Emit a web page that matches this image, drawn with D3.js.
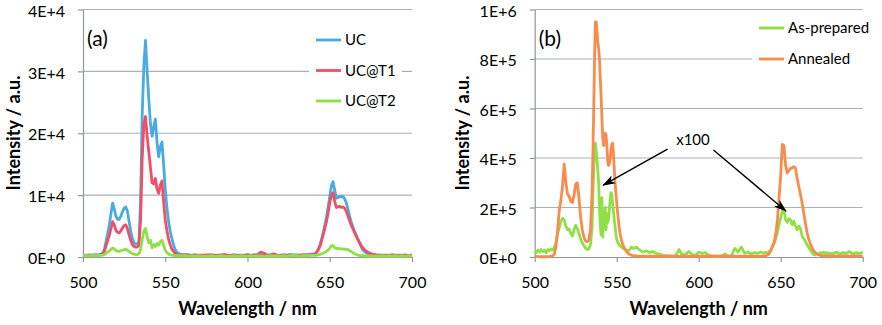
<!DOCTYPE html>
<html lang="en">
<head>
<meta charset="UTF-8">
<title>Emission spectra</title>
<script src="https://d3js.org/d3.v7.min.js"></script>
<style>
body{margin:0;background:#fff;}
text{font-family:Lato,'Open Sans',sans-serif;fill:#000;}
.tick text{font-size:16px;}
.title{font-size:18px;font-weight:700;}
.legend text{font-size:15px;}
</style>
</head>
<body>
<svg id="chart" width="882" height="325"></svg>
<script>
// ---- panel (a) ----
const wlA = [
  500,502,504,506,508,510,512,
  513,514,515,516,517,518,519,520,521,522,523,524,525,526,527,528,529,530,531,532,
  533,534,535,536,537,538,539,540,541,542,543,544,545,546,547,548,549,550,551,552,
  553,554,555,556,557,558,559,560,
  562,564,566,568,570,572,574,576,578,580,582,584,586,588,590,592,594,596,598,600,
  602,604,606,608,610,612,614,616,618,620,622,624,626,628,630,632,634,636,638,640,
  641,642,643,644,645,646,647,648,649,650,651,652,653,654,655,656,657,658,659,660,
  661,662,663,664,665,666,667,668,669,670,671,672,673,674,675,676,677,678,679,680,
  682,684,686,688,690,692,694,696,698,700
];
const uc = [
  300,250,350,300,400,350,600,
  1200,2500,3800,5200,7000,8700,7800,6600,6100,6100,6600,7300,7900,8100,7400,5800,4200,3000,2300,2100,
  2100,2500,9000,23000,31000,35000,30000,25500,21500,19500,21000,22300,18500,16200,17800,18600,15000,11000,8000,5800,
  4200,3000,2000,1200,800,600,450,400,
  400,350,300,350,300,250,300,350,300,250,300,350,300,250,300,350,300,250,300,400,
  300,350,400,300,250,300,350,300,250,300,350,300,400,300,350,300,350,400,450,500,
  500,800,1300,1900,2800,3900,5200,6400,8000,9800,11500,12200,10800,9500,9600,9800,9700,9800,9400,8800,
  7800,6700,5700,4900,4200,3600,2900,2300,1700,1200,900,700,550,450,400,350,350,300,300,300,
  300,250,300,350,300,250,300,300,250,300
];
const ucT1 = [
  250,300,200,300,250,300,500,
  900,1800,2700,3500,4600,5700,5200,4300,4000,3900,4200,4700,5100,5200,4600,3600,2700,2000,1700,1600,
  1600,1900,6000,16000,21500,22700,19500,17000,14500,12000,11800,12700,11000,10300,11600,12300,9000,6000,4300,2900,
  2000,1300,900,600,450,350,300,300,
  350,300,250,300,250,300,250,300,350,300,250,300,400,300,250,300,250,300,250,300,
  250,300,350,800,600,300,350,500,300,250,300,250,350,300,250,300,350,300,350,400,
  400,700,1100,1700,2600,3600,4600,5700,7100,8800,10000,10400,9000,8000,8100,8200,8000,8100,7900,7400,
  6700,5900,5200,4600,4000,3400,2900,2400,1900,1500,1200,1000,800,650,550,450,400,350,300,300,
  250,300,250,300,250,300,250,300,250,300
];
const ucT2 = [
  200,250,150,250,200,250,300,
  400,600,800,1000,1200,1450,1300,1050,950,900,1000,1100,1200,1250,1100,900,700,550,450,400,
  400,500,1200,2800,4200,4600,3300,2300,2700,1500,2000,1700,2200,1900,2500,2700,1900,1100,700,500,
  350,300,250,200,250,200,200,200,
  200,150,200,150,200,150,100,150,200,150,150,200,150,100,150,200,150,200,150,150,
  200,150,200,150,100,150,200,150,200,150,200,150,200,250,200,150,200,200,250,250,
  250,300,350,400,500,600,750,900,1100,1400,1800,1850,1500,1350,1400,1300,1350,1250,1300,1200,
  1250,1000,900,700,550,400,300,250,200,250,200,150,200,150,200,150,200,150,200,150,
  200,150,200,150,200,150,200,150,200,150
];
const namesA = ['UC', 'UC@T1', 'UC@T2'];
const yTicksA = [0, 10000, 20000, 30000, 40000];
const yLabelsA = ['0E+0', '1E+4', '2E+4', '3E+4', '4E+4'];

// ---- panel (b) ----
const wlB = [
  500,501,502,503,504,505,506,507,508,509,510,511,512,
  513,514,515,516,517,518,519,520,521,522,523,524,525,526,527,528,529,530,531,532,533,534,
  535,535.5,536,536.5,537,537.5,538,538.5,539,539.5,540,540.5,541,541.5,542,542.5,
  543,543.5,544,544.5,545,545.5,546,546.5,547,547.5,548,548.5,549,549.5,550,
  551,552,553,554,555,556,557,558,559,560,
  562,564,566,568,570,572,574,576,578,580,582,584,586,588,590,592,594,596,598,600,
  602,604,606,608,610,612,614,616,618,620,622,624,626,628,630,632,634,636,638,
  640,641,642,643,644,645,646,647,648,649,650,651,652,653,654,655,656,657,658,659,660,
  661,662,663,664,665,666,667,668,669,670,671,672,673,674,675,676,677,678,679,680,
  682,684,686,688,690,692,694,696,698,700
];
const asPrepared = [
  25000,18000,28000,20000,30000,22000,27000,18000,30000,25000,32000,28000,40000,
  60000,95000,120000,145000,157000,150000,125000,110000,112000,95000,85000,110000,128000,115000,95000,72000,58000,45000,36000,30000,32000,50000,
  120000,250000,350000,430000,460000,430000,390000,350000,300000,200000,130000,90000,240000,80000,160000,120000,
  200000,110000,175000,140000,150000,190000,230000,260000,255000,220000,190000,150000,125000,95000,70000,
  55000,45000,40000,35000,30000,28000,25000,30000,40000,35000,
  40000,28000,20000,25000,18000,22000,15000,12000,8000,5000,4000,3000,6000,30000,8000,12000,22000,10000,5000,20000,
  15000,18000,8000,4000,3000,3000,5000,12000,4000,6000,35000,20000,40000,15000,20000,12000,18000,15000,20000,
  15000,20000,12000,22000,30000,40000,55000,75000,100000,130000,160000,185000,190000,150000,140000,155000,150000,130000,145000,125000,110000,
  125000,115000,85000,75000,65000,50000,40000,28000,20000,10000,8000,15000,10000,18000,12000,20000,14000,18000,12000,16000,
  14000,20000,12000,18000,15000,22000,12000,18000,14000,20000
];
const annealed = [
  3000,2000,1500,1000,1000,1000,1000,1000,1500,2000,3000,5000,12000,
  45000,110000,190000,230000,290000,375000,300000,255000,245000,225000,220000,250000,295000,300000,240000,160000,110000,80000,65000,62000,68000,110000,
  260000,420000,600000,800000,950000,950000,910000,870000,840000,800000,720000,650000,560000,480000,450000,470000,
  500000,495000,450000,390000,370000,375000,400000,430000,455000,460000,420000,360000,300000,260000,220000,
  150000,95000,65000,45000,32000,22000,15000,10000,7000,5000,
  4000,3500,3000,3000,3000,3000,3000,3000,3000,3000,3000,3000,3000,3000,3000,3000,3000,3000,3000,3000,
  3000,3000,3000,3000,3000,3000,3000,3000,3000,3000,3000,3000,3000,3000,3000,3000,3000,3000,3500,
  4000,5000,8000,14000,25000,45000,60000,95000,150000,240000,330000,455000,450000,370000,340000,350000,358000,360000,365000,360000,320000,
  285000,255000,220000,180000,140000,100000,75000,55000,38000,27000,18000,13000,9000,7000,6000,5000,4500,4000,4000,4000,
  4000,4000,3500,4000,4000,3500,4000,4000,3500,4000
];
const namesB = ['As-prepared', 'Annealed'];
const yTicksB = [0, 200000, 400000, 600000, 800000, 1000000];
const yLabelsB = ['0E+0', '2E+5', '4E+5', '6E+5', '8E+5', '1E+6'];

const xTicks = [500, 550, 600, 650, 700];

const svg = d3.select('#chart');
const plotTop = 9.5, plotBottom = 257;

const defs = svg.append('defs');
defs.append('marker')
  .attr('id', 'arrow')
  .attr('viewBox', '0 0 12 10')
  .attr('refX', 11).attr('refY', 5)
  .attr('markerUnits', 'userSpaceOnUse')
  .attr('markerWidth', 13).attr('markerHeight', 11)
  .attr('orient', 'auto')
  .append('path')
  .attr('d', 'M0,1 L12,5 L0,9 L3,5 Z')
  .attr('fill', '#000');

function drawPanel(p) {
  const x = d3.scaleLinear().domain([500, 700]).range([p.left, p.right]);
  const y = d3.scaleLinear().domain([0, p.yTicks[p.yTicks.length - 1]]).range([plotBottom, plotTop]);
  const g = svg.append('g');

  // gridlines
  g.selectAll('.grid').data(p.yTicks.slice(1)).enter().append('line')
    .attr('x1', p.left).attr('x2', p.right)
    .attr('y1', d => y(d)).attr('y2', d => y(d))
    .attr('stroke', '#a7b1bb').attr('stroke-width', 1.2);

  const yAxis = g.append('g').attr('transform', `translate(${p.left},0)`)
    .call(d3.axisLeft(y).tickValues(p.yTicks).tickFormat((d, i) => p.yLabels[i]).tickSize(5).tickSizeOuter(0).tickPadding(13));
  const xAxis = g.append('g').attr('transform', `translate(0,${plotBottom})`)
    .call(d3.axisBottom(x).tickValues(xTicks).tickFormat(d3.format('d')).tickSize(5).tickSizeOuter(0).tickPadding(15));
  [yAxis, xAxis].forEach(a => {
    a.attr('font-family', null).attr('font-size', null);
    a.selectAll('line, path').attr('stroke', '#8e969e').attr('stroke-width', 1.2);
  });
  yAxis.selectAll('text').attr('dy', '0.42em');

  // legend box sits above the gridlines
  g.append('rect').attr('x', p.legend.x - 7).attr('y', p.legend.y - 17)
    .attr('width', p.legend.w).attr('height', p.legend.h).attr('fill', '#fff');

  const line = d3.line().x(d => x(d[0])).y(d => y(d[1]));
  p.series.forEach(s => {
    g.append('path')
      .datum(p.wl.map((w, i) => [w, s.values[i]]))
      .attr('d', line)
      .attr('fill', 'none')
      .attr('stroke', s.color)
      .attr('stroke-width', 2.8)
      .attr('stroke-linejoin', 'round');
  });

  const leg = g.append('g').attr('class', 'legend');
  p.series.forEach((s, i) => {
    const ly = p.legend.y + i * p.legend.step;
    leg.append('line').attr('x1', p.legend.x).attr('x2', p.legend.x + 25)
      .attr('y1', ly).attr('y2', ly).attr('stroke', s.color).attr('stroke-width', 2.8);
    leg.append('text').attr('x', p.legend.x + 29).attr('y', ly).attr('dy', '0.35em').text(s.name);
  });

  g.append('text').attr('x', p.left + 4).attr('y', 46).attr('font-size', 21).text(p.tag);

  g.append('text').attr('class', 'title').attr('text-anchor', 'middle')
    .attr('x', (p.left + p.right) / 2).attr('y', 315).text('Wavelength / nm');
  g.append('text').attr('class', 'title').attr('text-anchor', 'middle')
    .attr('transform', `translate(${p.titleX},133) rotate(-90)`).text('Intensity / a.u.');

  return {x, y, g};
}

drawPanel({
  left: 83, right: 412, yTicks: yTicksA, yLabels: yLabelsA, wl: wlA, tag: '(a)', titleX: 20,
  legend: {x: 316, y: 40, step: 30.5, w: 93, h: 92},
  series: [
    {name: namesA[0], values: uc, color: '#4aabe4'},
    {name: namesA[1], values: ucT1, color: '#f04f66'},
    {name: namesA[2], values: ucT2, color: '#8fdf48'}
  ]
});

const pb = drawPanel({
  left: 534.7, right: 862.7, yTicks: yTicksB, yLabels: yLabelsB, wl: wlB, tag: '(b)', titleX: 469,
  legend: {x: 759, y: 28, step: 31, w: 130, h: 58},
  series: [
    {name: namesB[0], values: asPrepared, color: '#8fdf48'},
    {name: namesB[1], values: annealed, color: '#f98b4e'}
  ]
});

// "x100" note with arrows pointing at the as-prepared curve
const noteText = 'x100';
const notePos = [596.5, 473000];
const arrowsB = [
  [[581, 436000], [541.8, 290000]],
  [[609, 432000], [653.2, 186000]]
];
pb.g.append('text').attr('x', pb.x(notePos[0])).attr('y', pb.y(notePos[1]))
  .attr('dy', '0.35em').attr('text-anchor', 'middle').attr('font-size', 15).text(noteText);
pb.g.selectAll('.arr').data(arrowsB).enter().append('line')
  .attr('x1', d => pb.x(d[0][0])).attr('y1', d => pb.y(d[0][1]))
  .attr('x2', d => pb.x(d[1][0])).attr('y2', d => pb.y(d[1][1]))
  .attr('stroke', '#000').attr('stroke-width', 1.4)
  .attr('marker-end', 'url(#arrow)');
</script>
</body>
</html>
